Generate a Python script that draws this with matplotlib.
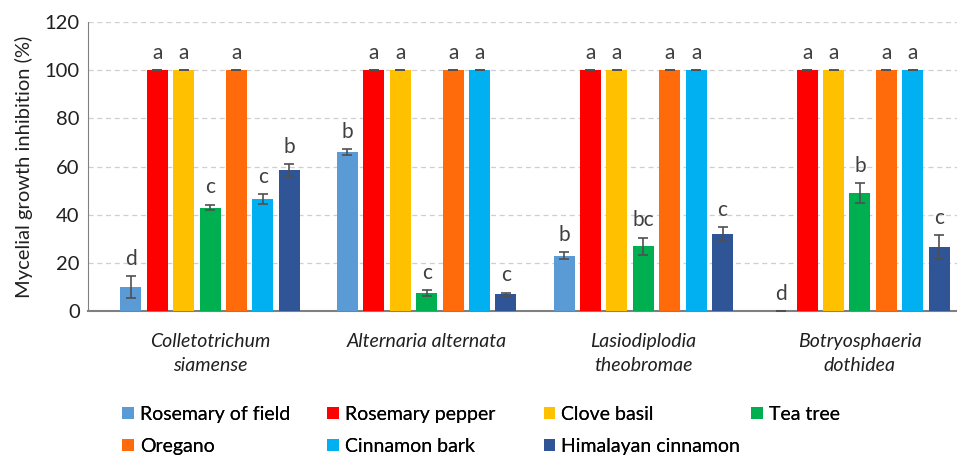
import matplotlib.pyplot as plt
import numpy as np

plt.rcParams["font.family"] = ["Lato", "DejaVu Sans"]

pathogens = ["Colletotrichum\nsiamense", "Alternaria alternata",
             "Lasiodiplodia\ntheobromae", "Botryosphaeria\ndothidea"]
oils = ["Rosemary of field", "Rosemary pepper", "Clove basil", "Tea tree",
        "Oregano", "Cinnamon bark", "Himalayan cinnamon"]
colors = ["#5B9BD5", "#FF0000", "#FFC000", "#00B050",
          "#FF6A0A", "#00B0F0", "#2F5597"]

# one row per oil, one column per pathogen
values = [
    [10, 66, 23, 0],
    [100, 100, 100, 100],
    [100, 100, 100, 100],
    [43, 7.5, 27, 49],
    [100, 100, 100, 100],
    [46.5, 100, 100, 100],
    [58.5, 7, 32, 26.5],
]
errors = [
    [4.5, 1.2, 1.5, 0],
    [0, 0, 0, 0],
    [0, 0, 0, 0],
    [1.2, 1.2, 3.5, 4],
    [0, 0, 0, 0],
    [2, 0, 0, 0],
    [2.5, 0.7, 3, 5],
]
letters = [
    ["d", "b", "b", "d"],
    ["a", "a", "a", "a"],
    ["a", "a", "a", "a"],
    ["c", "c", "bc", "b"],
    ["a", "a", "a", "a"],
    ["c", "a", "a", "a"],
    ["b", "c", "c", "c"],
]

fig = plt.figure(figsize=(9.57, 4.59), dpi=100)
ax = fig.add_axes([0.092, 0.322, 0.908, 0.63])

x = np.arange(len(pathogens))
step = 0.122
width = 0.097
handles = []
for i, oil in enumerate(oils):
    pos = x + (i - 3) * step
    h = ax.bar(pos, values[i], width, color=colors[i], label=oil, zorder=3)
    handles.append(h)
    ax.errorbar(pos, values[i], yerr=errors[i], fmt="none", ecolor="#505050",
                elinewidth=1.2, capsize=3.5, capthick=1.2, zorder=4)
    for j in range(len(pathogens)):
        ax.text(pos[j], values[i][j] + errors[i][j] + 3, letters[i][j],
                ha="center", va="bottom", fontsize=15, color="#404040")

ax.set_xlim(-0.563, 3.448)
ax.set_ylim(0, 120)
ax.set_yticks(range(0, 121, 20))
ax.yaxis.grid(True, linestyle=(0, (4, 3)), color="#CFCFCF", linewidth=0.9, zorder=0)
ax.set_xticks(x)
ax.set_xticklabels(pathogens, fontstyle="italic", fontsize=14,
                   color="#202020", linespacing=1.5)
ax.tick_params(axis="x", length=0, pad=16)
ax.tick_params(axis="y", length=0, labelsize=14.5, colors="#202020", pad=6)
ax.set_ylabel("Mycelial growth inhibition (%)", fontsize=14.5, color="#202020",
              labelpad=8)
for s in ["top", "right"]:
    ax.spines[s].set_visible(False)
ax.spines["left"].set_color("#808080")
ax.spines["bottom"].set_color("#808080")
ax.spines["bottom"].set_linewidth(1.5)

# legend: 4 columns of fixed position, read row-wise
columns = [[0, 4], [1, 5], [2, 6], [3]]
col_x = [0.128, 0.342, 0.568, 0.785]
for cx, col in zip(col_x, columns):
    leg = fig.legend([handles[k] for k in col], [oils[k] for k in col],
                     loc="upper left", bbox_to_anchor=(cx, 0.116), ncol=1,
                     frameon=False, fontsize=14, handlelength=0.6,
                     handleheight=0.6, handletextpad=0.3, labelspacing=0.78,
                     borderaxespad=0, borderpad=0)
    fig.add_artist(leg)

plt.savefig("out.png", dpi=100)
